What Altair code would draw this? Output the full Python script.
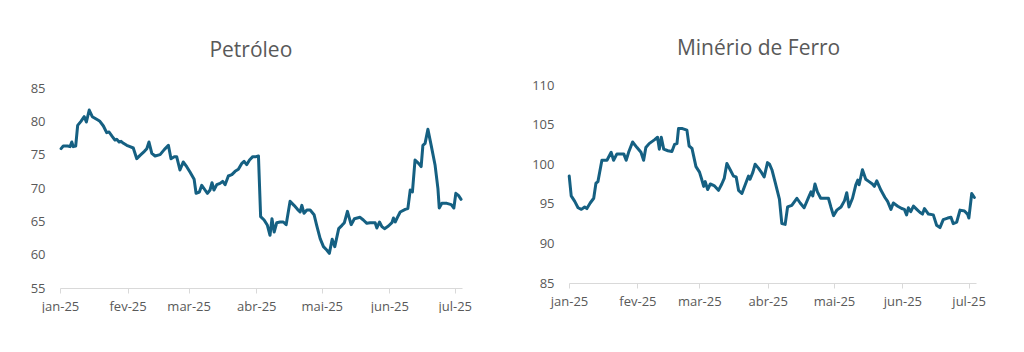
import altair as alt
import pandas as pd

FONT = "Open Sans"
LINE = "#156082"
TXT = "#595959"
AXIS = "#D9D9D9"

# Petróleo: days since 2025-01-01, and price
pet_days = [0.5, 1.5, 3.5, 4.6, 5.4, 6.1, 7.2, 8.1, 9.6, 11.1,
            12.1, 13.4, 14.8, 16.8, 18.3, 19.9, 21.4, 22.5, 24.0, 25.2,
            26.0, 27.1, 28.0, 29.1, 30.6, 32.1, 33.6, 35.2, 36.7, 38.7,
            39.8, 40.8, 42.1, 43.6, 45.9, 47.9, 49.7, 50.9, 52.4, 53.5,
            55.0, 56.5, 58.1, 59.6, 61.5, 62.4, 63.9, 65.0, 66.5, 67.6,
            68.8, 69.7, 70.6, 71.9, 73.4, 74.6, 75.7, 77.2, 78.8, 80.3,
            81.8, 83.4, 84.4, 85.6, 86.9, 88.4, 89.9, 91.0, 92.0, 93.6,
            95.1, 96.3, 97.2, 98.2, 99.4, 100.9, 102.4, 103.7, 105.5, 107.3,
            108.9, 110.1, 110.9, 111.9, 113.2, 114.7, 116.5, 117.7, 119.3, 120.8,
            122.3, 123.5, 124.8, 126.0, 127.8, 129.3, 130.4, 131.8, 133.5, 135.0,
            137.6, 139.1, 140.7, 142.2, 144.5, 145.3, 146.5, 147.6, 148.8, 150.6,
            152.2, 152.9, 153.7, 154.9, 156.0, 158.3, 159.5, 160.6, 161.6, 162.8,
            164.4, 165.6, 166.4, 167.4, 168.7, 170.2, 172.0, 173.3, 173.9, 175.1,
            177.4, 179.4, 180.6, 181.5, 182.7, 183.9]
pet_vals = [75.9, 76.3, 76.3, 76.2, 76.9, 76.2, 76.3, 79.4, 80.0, 80.7,
            79.9, 81.7, 80.7, 80.3, 80.0, 79.3, 78.3, 78.4, 77.7, 77.2,
            77.3, 76.9, 77.0, 76.7, 76.4, 76.2, 76.0, 74.4, 74.9, 75.5,
            75.9, 76.9, 75.2, 74.8, 75.0, 75.8, 76.4, 74.4, 74.7, 74.7,
            72.7, 73.9, 73.2, 72.4, 71.3, 69.2, 69.4, 70.4, 69.7, 69.2,
            69.7, 70.8, 69.7, 70.5, 70.7, 71.0, 70.5, 71.8, 72.0, 72.5,
            72.8, 73.7, 74.0, 73.5, 74.2, 74.7, 74.7, 74.8, 65.7, 65.2,
            64.4, 62.9, 65.4, 63.4, 64.8, 64.9, 64.9, 64.5, 68.0, 67.4,
            66.8, 66.4, 67.4, 66.2, 66.7, 66.7, 66.0, 64.4, 62.4, 61.2,
            60.7, 60.2, 62.3, 61.2, 63.9, 64.4, 64.8, 66.5, 64.5, 65.4,
            65.6, 65.2, 64.7, 64.8, 64.8, 64.0, 64.9, 64.2, 63.9, 64.3,
            64.8, 65.5, 64.9, 65.7, 66.4, 66.8, 66.9, 69.7, 69.4, 74.2,
            73.7, 73.2, 76.4, 76.7, 78.8, 76.4, 73.4, 69.9, 67.0, 67.7,
            67.7, 67.5, 67.0, 69.2, 68.9, 68.3]

# Minério de Ferro
fe_days = [0.1, 1.0, 2.6, 4.1, 5.6, 7.1, 8.1, 9.6, 11.2, 12.2,
           13.1, 14.9, 17.2, 19.1, 20.2, 21.7, 23.2, 24.8, 25.9, 27.0,
           28.8, 30.8, 32.6, 33.8, 34.8, 36.3, 38.8, 40.1, 40.9, 41.8,
           42.9, 44.8, 46.6, 47.8, 48.9, 49.6, 51.4, 53.4, 54.4, 55.7,
           57.5, 59.1, 60.2, 61.0, 61.7, 62.8, 64.0, 65.7, 67.7, 69.2,
           70.3, 71.5, 73.0, 74.5, 75.7, 76.8, 78.3, 79.8, 81.3, 82.0,
           83.3, 84.3, 85.8, 87.3, 88.4, 89.9, 90.8, 91.9, 93.3, 95.3,
           96.4, 97.9, 99.0, 100.9, 103.2, 104.7, 106.5, 108.5, 109.6, 110.4,
           111.4, 112.5, 114.0, 116.0, 117.5, 118.6, 119.8, 121.3, 123.2, 124.8,
           125.8, 126.8, 128.4, 129.9, 130.8, 131.4, 132.9, 134.4, 135.9, 137.4,
           138.3, 139.4, 141.3, 143.1, 144.3, 145.8, 146.9, 148.9, 150.7, 151.9,
           152.9, 153.7, 154.8, 156.0, 157.5, 159.0, 160.1, 161.0, 162.8, 165.0,
           166.5, 168.0, 169.5, 171.5, 173.0, 174.0, 175.6, 177.1, 179.1, 180.5,
           181.1, 182.4, 183.6]
fe_vals = [98.5, 96.0, 95.3, 94.5, 94.3, 94.6, 94.4, 95.1, 95.7, 97.6,
           97.8, 100.5, 100.5, 101.5, 100.5, 101.3, 101.3, 101.3, 100.5, 101.5,
           102.8, 102.1, 101.5, 100.5, 102.1, 102.6, 103.1, 103.4, 101.9, 103.4,
           101.9, 101.7, 101.6, 102.5, 102.6, 104.5, 104.5, 104.3, 102.3, 102.0,
           99.7, 99.0, 98.0, 97.2, 97.8, 96.8, 97.5, 97.3, 96.7, 97.5,
           98.2, 100.1, 99.3, 98.5, 98.4, 96.7, 96.3, 97.4, 98.5, 98.1,
           99.0, 100.0, 99.5, 98.9, 98.4, 100.2, 100.0, 99.3, 97.8, 95.6,
           92.5, 92.4, 94.6, 94.8, 95.7, 95.1, 94.5, 95.8, 96.5, 96.0,
           97.5, 96.5, 95.7, 95.7, 95.7, 94.6, 93.5, 94.2, 94.6, 95.4,
           96.4, 94.6, 95.7, 97.4, 98.0, 97.4, 99.3, 98.1, 97.8, 97.5,
           97.2, 97.9, 96.7, 95.8, 95.3, 94.3, 95.1, 94.7, 94.4, 94.3,
           93.6, 94.5, 94.0, 94.7, 94.3, 93.9, 93.7, 94.4, 93.7, 93.6,
           92.3, 92.0, 93.0, 93.2, 93.3, 92.5, 92.7, 94.2, 94.1, 93.7,
           93.2, 96.3, 95.8]

pet_yticks = [55, 60, 65, 70, 75, 80, 85]
fe_yticks = [85, 90, 95, 100, 105, 110]
month_labels = ["jan", "fev", "mar", "abr", "mai", "jun", "jul", "ago", "set", "out", "nov", "dez"]

start = pd.Timestamp("2025-01-01")


def to_dates(days):
    return [start + pd.Timedelta(days=d) for d in days]


pet_df = pd.DataFrame({"data": to_dates(pet_days), "valor": pet_vals})
fe_df = pd.DataFrame({"data": to_dates(fe_days), "valor": fe_vals})

xticks = [alt.DateTime(year=2025, month=m, date=1) for m in range(1, 8)]
xdom = [alt.DateTime(year=2025, month=1, date=1),
        alt.DateTime(year=2025, month=7, date=4, hours=8)]
label_expr = ("[" + ",".join("'%s'" % m for m in month_labels) + "][month(datum.value)]"
              " + '-' + timeFormat(datum.value, '%y')")


def panel(df, title, ydom, yticks, w, h, toff):
    return alt.Chart(df, title=alt.TitleParams(
        title, fontSize=21, color=TXT, font=FONT, fontWeight="normal",
        anchor="middle", frame="bounds", offset=toff)).mark_line(
        color=LINE, strokeWidth=3, strokeJoin="round", strokeCap="round"
    ).encode(
        x=alt.X("data:T", scale=alt.Scale(domain=xdom),
                axis=alt.Axis(values=xticks, labelExpr=label_expr, title=None, grid=False,
                              domainColor=AXIS, tickColor=AXIS, tickSize=5, labelPadding=7,
                              labelFontSize=13, labelColor=TXT, labelFont=FONT,
                              labelOverlap=False, labelFlush=False)),
        y=alt.Y("valor:Q", scale=alt.Scale(domain=ydom, nice=False, zero=False),
                axis=alt.Axis(values=yticks, title=None, grid=False, domain=False, ticks=False,
                              labelPadding=15, labelFontSize=13, labelColor=TXT, labelFont=FONT)),
    ).properties(width=w, height=h)


# left panel's plot area reaches 3px above its top tick, so both tops share one line
left = panel(pet_df, "Petróleo", [55, 85.45], pet_yticks, 402, 203, 21)
right = panel(fe_df, "Minério de Ferro", [85, 110], fe_yticks, 407, 198, 20)

chart = alt.hconcat(left, right, spacing=59).configure_view(stroke=None).properties(
    padding={"left": 30, "top": 38, "right": 0, "bottom": 0}, background="white")

chart.save("out.html", embed_options={"renderer": "svg", "actions": False})
